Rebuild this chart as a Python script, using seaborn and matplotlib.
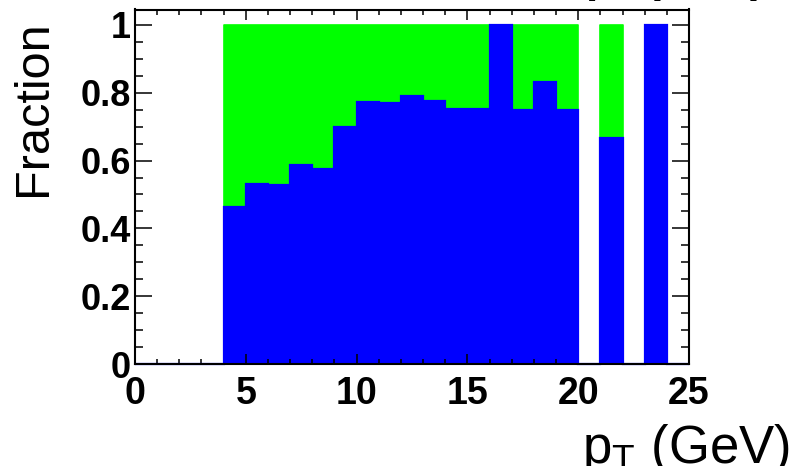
import numpy as np
import pandas as pd
import matplotlib
matplotlib.use("Agg")
import matplotlib.pyplot as plt
from matplotlib.ticker import MultipleLocator, FixedLocator
import seaborn as sns

# Histogram binning in pT (GeV)
bin_edges = list(range(0, 26))
bin_centers = [e + 0.5 for e in range(0, 25)]

# Fraction of the first component per pT bin
frac_blue = [0, 0, 0, 0, 0.462, 0.530, 0.528, 0.587, 0.575, 0.699,
             0.772, 0.771, 0.791, 0.776, 0.752, 0.752, 1.0, 0.75, 0.833, 0.75,
             0, 0.667, 0, 1.0, 0]
# Stacked total (first + second component)
frac_total = [0, 0, 0, 0, 1, 1, 1, 1, 1, 1,
              1, 1, 1, 1, 1, 1, 1, 1, 1, 1,
              0, 1, 0, 1, 0]

y_ticks = [0, 0.2, 0.4, 0.6, 0.8, 1.0]
y_ticklabels = ["0", "0.2", "0.4", "0.6", "0.8", "1"]
x_ticks = [0, 5, 10, 15, 20, 25]
x_ticklabels = ["0", "5", "10", "15", "20", "25"]

df = pd.DataFrame({"pt": bin_centers, "blue": frac_blue, "total": frac_total})

plt.rcParams["font.family"] = ["Liberation Sans", "DejaVu Sans"]
plt.rcParams["mathtext.fontset"] = "custom"
plt.rcParams["mathtext.rm"] = "Liberation Sans"
plt.rcParams["mathtext.it"] = "Liberation Sans"

fig = plt.figure(figsize=(7.94, 4.66), dpi=100)
ax = fig.add_axes([135 / 794, 1 - 364 / 466, (689 - 135) / 794, (364 - 9.5) / 466])

sns.histplot(data=df, x="pt", weights="total", bins=bin_edges, element="step",
             fill=True, color="#00ff00", alpha=1, edgecolor="#00ff00",
             linewidth=1.2, ax=ax)
sns.histplot(data=df, x="pt", weights="blue", bins=bin_edges, element="step",
             fill=True, color="#0000ff", alpha=1, edgecolor="#0000ff",
             linewidth=1.2, ax=ax)
# Histogram outline, also visible along zero for empty bins
ax.stairs(frac_blue, bin_edges, color="#0000ff", linewidth=1.6, clip_on=False,
          zorder=3)

ax.set_xlim(0, 25)
ax.set_ylim(0, 1.0457)
ax.set_xlabel("")
ax.set_ylabel("")

for s in ax.spines.values():
    s.set_linewidth(1.5)
    s.set_color("black")
    s.set_zorder(4)

ax.xaxis.set_major_locator(FixedLocator(x_ticks))
ax.xaxis.set_minor_locator(MultipleLocator(1))
ax.yaxis.set_major_locator(FixedLocator(y_ticks))
ax.yaxis.set_minor_locator(MultipleLocator(0.05))
ax.set_xticklabels(x_ticklabels)
ax.set_yticklabels(y_ticklabels)

ax.tick_params(axis="x", which="major", direction="in", length=7.5, width=1.1,
               top=True, bottom=True, pad=9, labelsize=27)
ax.tick_params(axis="x", which="minor", direction="in", length=3.8, width=1.1,
               top=True, bottom=True)
ax.tick_params(axis="y", which="major", direction="in", length=12.5, width=1.1,
               left=True, right=True, pad=3, labelsize=26)
ax.tick_params(axis="y", which="minor", direction="in", length=6, width=1.1,
               left=True, right=True)
for lab in ax.get_xticklabels() + ax.get_yticklabels():
    lab.set_fontweight("bold")

# Axis titles, ROOT style (aligned to the axis ends)
fig.text(34 / 794, 1 - 20 / 466, "Fraction", rotation=90, ha="center", va="top",
         fontsize=35)
fig.text(790 / 794, 1 - 463 / 466, r"p$_\mathrm{T}$ (GeV)", ha="right",
         va="baseline", fontsize=38)

# Title partly outside the canvas
fig.text(585 / 794, 1 + 8 / 466, r"p$_\mathrm{T}$ (GeV)", ha="left",
         va="baseline", fontsize=32, fontweight="bold")

fig.savefig("out.png", dpi=100)
